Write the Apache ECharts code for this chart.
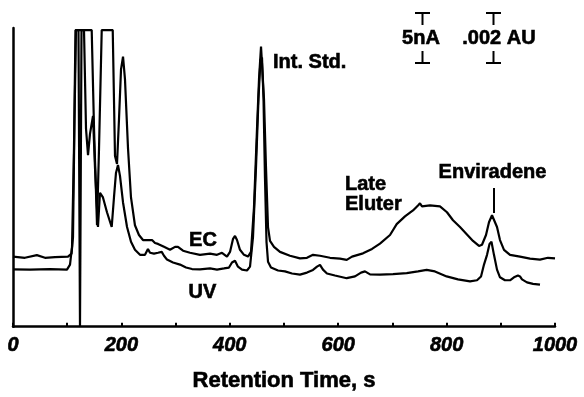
<!DOCTYPE html>
<html>
<head>
<meta charset="utf-8">
<script src="https://cdn.jsdelivr.net/npm/echarts@6/dist/echarts.min.js"></script>
<style>
html,body{margin:0;padding:0;background:#fff;}
#chart{width:584px;height:397px;}
</style>
</head>
<body>
<div id="chart"></div>
<script>
// Retention time (s) and detector signal (arbitrary display units) for the EC trace
const ecTime = [0,22,44,59,77.5,101.5,108,110.7,113.5,116.2,145.2,149.5,155,158.7,163.7,184,188.2,191.9,195.6,199.3,203,206.6,212.2,217.7,225,232.4,239.8,249,256.5,262,267.5,278.6,289.7,299,304.4,313.7,326.6,345,363.5,376.4,385.6,394.8,400.4,406,409.6,413.3,418.8,426.2,433.6,439.1,444.6,450.2,453.9,457.6,460.3,463.1,466.8,470.5,474.2,481.5,492.6,511,529.5,542.4,553.5,566.4,584.9,603.3,615.7,625.5,645.8,662.4,677.1,695.6,707.9,723.2,738,747.2,750.9,754.6,769.4,787.8,800.7,811.8,824.7,837.1,848.7,859.8,865.3,872.7,878.2,883.8,887.4,893,898.5,905.9,917,935.4,953.9,972.3,987,1000];
const ecSignal = [23.7,23.3,24.2,23.3,23.5,23.7,24.7,30.3,70.3,100.3,100.3,67,34.3,60.3,100.3,100.3,57.7,55,70.3,87,91.3,83.7,60.3,43.7,34.3,31,29.3,29.3,29.3,28.3,28,27,26,27,27,25.7,25,24.3,24.7,24.3,25,23.7,25.3,29.7,30.7,29.3,26,24.3,23.7,25.3,40.3,67,83.7,94.7,94.7,77,53.7,33.7,29,27,25.3,24,23.1,23.3,24.3,24,23.3,23,22.6,23.7,24.8,26.3,28.1,31,34.7,37.3,39.3,41,41.7,40.7,41,40.7,38.7,36,33.7,31.3,29,27.3,27.7,31,35.3,37.7,37.3,33.7,29.3,26,24.3,23.7,23,22.7,23.3,23.1];

// UV trace
const uvTime = [0,31.4,68.3,99.6,105.2,108.9,112.5,115.3,120.8,123.6,126.4,131,134.7,138.4,142.1,147.6,151.3,156.8,160.5,166,173.4,182.1,186.3,190,193.7,197.4,203,210.4,217.7,225,234.3,243.5,249,252.8,260.1,267.5,274.4,278.6,284.1,295.2,308.1,319.2,330.3,345,363.5,376.4,389.3,398.5,404,409.6,415.1,422.5,431.7,437.3,442.8,448.3,452.9,456.6,459.4,462.2,464.9,467.7,470.5,476,489,501.8,514.8,529.5,542.4,553.5,560.9,566.4,571.9,579.3,594,615.7,631,642.1,649.4,658.7,677.1,701.1,726.4,747.2,763.2,778.5,800.1,821,843.2,856.1,863.5,869,874.6,879.2,882.8,887.4,893,898.5,907.7,917,924.3,931.7,935.4,939.1,948.3,959.4,972.3];
const uvSignal = [19.4,19.3,19.5,19.3,21,27,60.3,100.3,100.3,0,100.3,100.3,67,58,65.3,71.3,53.7,33.7,45.3,43.7,38.7,33.7,43.7,52,54.7,51,42,33.7,28.7,26,24.3,24.3,26.3,25,24.7,25,25.3,24,22.7,21.7,21,20,19.5,19.4,19.7,19.3,19.7,20,21.7,22.3,20.3,19.3,19,20.3,30.3,53.7,77,90.3,91,77,50.3,28.7,22,20,19,18.7,18,17.6,18.3,19.2,20.3,20.9,19.3,18,17.3,16.4,17,18.3,18.7,17.7,17.6,17.8,18.1,18.7,19.2,18.7,17,16,15.3,15.7,17,21,24.3,28,28.7,24.3,19.3,16.7,15.7,15.7,16.7,17.3,17,16,15,14.5,14.2];

const xTickLabels = ['0','200','400','600','800','1000'];
const xAxisTitle = 'Retention Time, s';

const zip = (a, b) => a.map((t, i) => [t, b[i]]);
const FONT = '"Liberation Sans", Arial, Helvetica, sans-serif';

const chart = echarts.init(document.getElementById('chart'), null, {renderer: 'canvas'});

function txt(text, x, y, align) {
  return {
    type: 'text',
    style: {
      text: text, x: x, y: y,
      fill: '#000',
      stroke: '#000', lineWidth: 0.6,
      font: 'bold 20px ' + FONT,
      textAlign: align || 'left',
      textVerticalAlign: 'middle'
    }
  };
}
function seg(x1, y1, x2, y2) {
  return {type: 'line', shape: {x1: x1, y1: y1, x2: x2, y2: y2}, style: {stroke: '#000', lineWidth: 2}};
}

const option = {
  backgroundColor: '#fff',
  animation: false,
  grid: {left: 13, right: 29, top: 28, bottom: 66},
  xAxis: {
    type: 'value', min: 0, max: 1000, interval: 100,
    name: xAxisTitle, nameLocation: 'middle', nameGap: 43,
    nameTextStyle: {fontFamily: FONT, fontWeight: 'bold', fontSize: 22, color: '#000',
                    textBorderColor: '#000', textBorderWidth: 0.6},
    axisLine: {show: true, onZero: false, lineStyle: {color: '#000', width: 2.5}},
    axisTick: {show: true, inside: true, length: 4, lineStyle: {color: '#000', width: 2}},
    axisLabel: {
      margin: 9, color: '#000', fontFamily: FONT, fontWeight: 'bold', fontStyle: 'italic', fontSize: 20,
      textBorderColor: '#000', textBorderWidth: 0.6,
      formatter: v => (xTickLabels.indexOf(String(v)) >= 0 ? String(v) : '')
    },
    splitLine: {show: false}
  },
  yAxis: {
    type: 'value', min: 0, max: 101,
    axisLine: {show: true, lineStyle: {color: '#000', width: 2.5}},
    axisTick: {show: false}, axisLabel: {show: false}, splitLine: {show: false}
  },
  series: [
    {name: 'EC', type: 'line', data: zip(ecTime, ecSignal), showSymbol: false, clip: true,
     lineStyle: {color: '#000', width: 2.2}, z: 3},
    {name: 'UV', type: 'line', data: zip(uvTime, uvSignal), showSymbol: false, clip: true,
     lineStyle: {color: '#000', width: 2.2}, z: 3}
  ],
  graphic: [
    txt('Int. Std.', 273, 62),
    txt('Late', 345, 184),
    txt('Eluter', 345, 204),
    txt('Enviradene', 492.5, 172, 'center'),
    seg(494, 188, 494, 213),
    txt('EC', 203, 240, 'center'),
    txt('UV', 202.5, 292, 'center'),
    txt('5nA', 421, 38, 'center'),
    txt('.002 AU', 499, 38, 'center'),
    seg(415, 13, 430, 13), seg(422.5, 13, 422.5, 25), seg(422.5, 51, 422.5, 63), seg(415, 63, 430, 63),
    seg(486, 13, 501, 13), seg(493.5, 13, 493.5, 25), seg(493.5, 51, 493.5, 63), seg(486, 63, 501, 63)
  ]
};
chart.setOption(option);
</script>
</body>
</html>
